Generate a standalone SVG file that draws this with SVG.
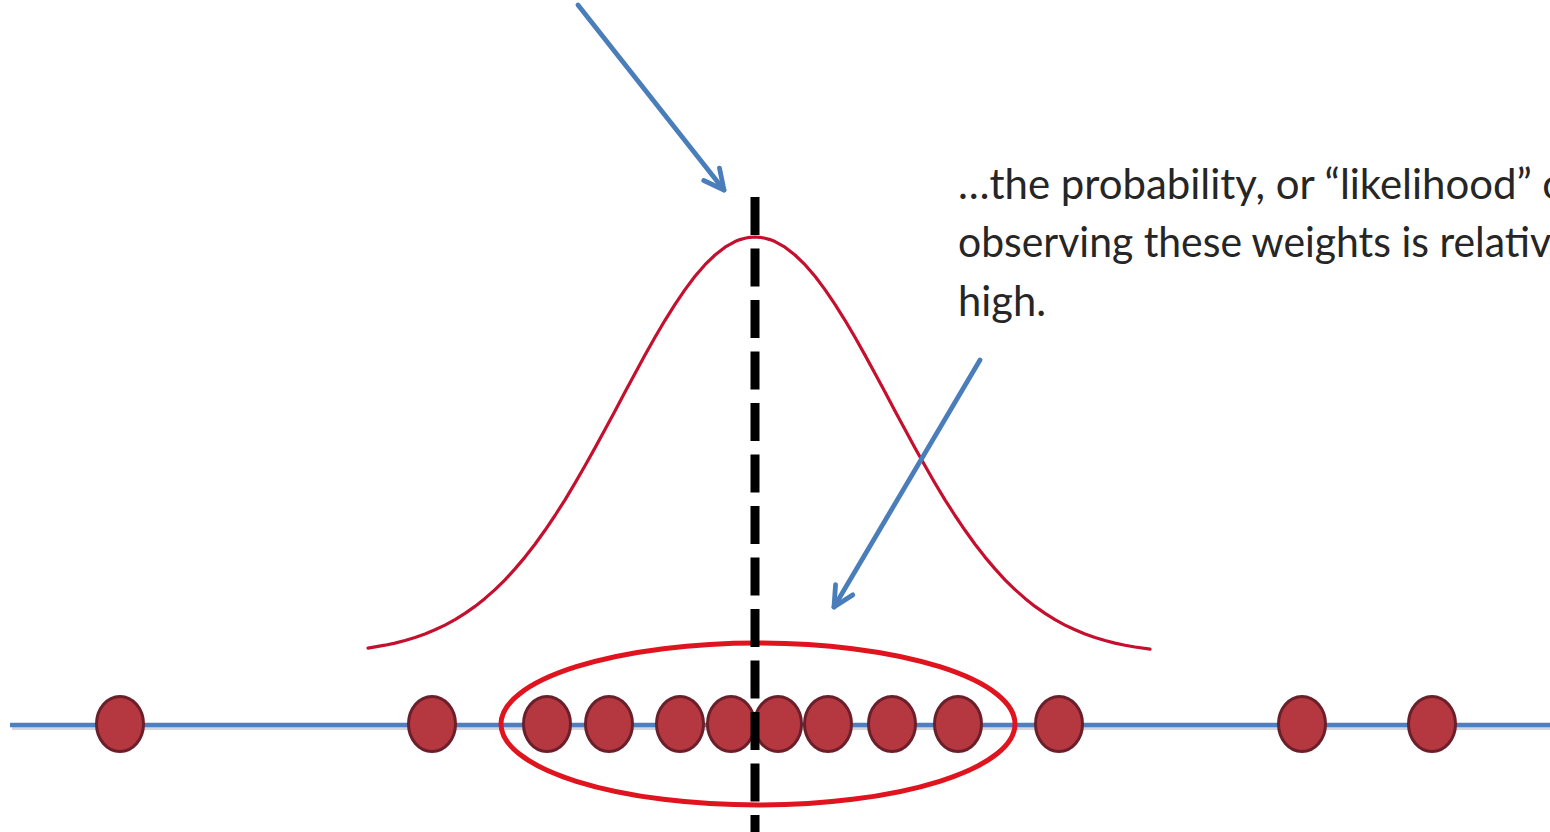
<svg xmlns="http://www.w3.org/2000/svg" width="1550" height="832" viewBox="0 0 1550 832">
<style>
.axis{stroke:#4f7fbf;stroke-width:4.5;fill:none}
.shadow{stroke:#d3d6dc;stroke-width:3;fill:none}
.dot{fill:#b5373f;stroke:#6b1f2a;stroke-width:3}
.mean{stroke:#000;stroke-width:9;fill:none;stroke-dasharray:38 13.5}
.curve{stroke:#c4102e;stroke-width:3.2;fill:none;stroke-linejoin:round;stroke-linecap:round}
.ring{stroke:#e0141e;stroke-width:5;fill:none}
.arrow{stroke:#4a7ebb;stroke-width:4.8;fill:none;stroke-linecap:round}
.label{font-family:Lato,"Open Sans",sans-serif;font-size:42px;fill:#262626}
</style>
<defs>
<marker id="arr" markerUnits="userSpaceOnUse" markerWidth="30" markerHeight="30" viewBox="-25 -15 30 30" refX="0" refY="0" orient="auto" overflow="visible">
<path d="M-20,-10 L0,0 L-20,10" fill="none" stroke="#4a7ebb" stroke-width="4.8" stroke-linecap="round" stroke-linejoin="round"/>
</marker>
</defs>
<rect width="1550" height="832" fill="#fff"/>
<g id="axis">
<line class="shadow" x1="12" y1="728.5" x2="1550" y2="728.5"/>
<line class="axis" x1="10" y1="725" x2="1550" y2="725"/>
</g>
<g id="highlight">
<ellipse class="ring" cx="758" cy="724" rx="257" ry="81"/>
</g>
<g id="points">
<ellipse class="dot" cx="120" cy="724" rx="23.5" ry="27.5"/>
<ellipse class="dot" cx="432" cy="724" rx="23.5" ry="27.5"/>
<ellipse class="dot" cx="547" cy="724" rx="23.5" ry="27.5"/>
<ellipse class="dot" cx="609" cy="724" rx="23.5" ry="27.5"/>
<ellipse class="dot" cx="680" cy="724" rx="23.5" ry="27.5"/>
<ellipse class="dot" cx="731" cy="724" rx="23.5" ry="27.5"/>
<ellipse class="dot" cx="778" cy="724" rx="23.5" ry="27.5"/>
<ellipse class="dot" cx="828" cy="724" rx="23.5" ry="27.5"/>
<ellipse class="dot" cx="892" cy="724" rx="23.5" ry="27.5"/>
<ellipse class="dot" cx="958" cy="724" rx="23.5" ry="27.5"/>
<ellipse class="dot" cx="1059" cy="724" rx="23.5" ry="27.5"/>
<ellipse class="dot" cx="1302" cy="724" rx="23.5" ry="27.5"/>
<ellipse class="dot" cx="1432" cy="724" rx="23.5" ry="27.5"/>
</g>
<g id="mean-line">
<line class="mean" x1="755" y1="197" x2="755" y2="832"/>
</g>
<g id="curve">
<path class="curve" d="M368,648.1 L385,645.2 L395,643.1 L405,640.5 L415,637.5 L425,633.9 L435,629.8 L445,625.1 L455,619.6 L465,613.4 L475,606.4 L485,598.4 L495,589.6 L505,579.8 L515,568.9 L525,557.1 L535,544.2 L545,530.3 L555,515.5 L565,499.8 L575,483.2 L585,465.8 L595,447.9 L605,429.5 L615,410.9 L625,392.1 L635,373.4 L645,355.1 L655,337.3 L665,320.3 L675,304.3 L685,289.6 L695,276.3 L705,264.7 L715,255.0 L725,247.2 L735,241.6 L740,239.6 L745,238.2 L750,237.3 L755,237 L760,237.3 L765,238.2 L770,239.6 L775,241.6 L785,247.2 L795,255.0 L805,264.7 L815,276.3 L825,289.6 L835,304.3 L845,320.3 L855,337.3 L865,355.1 L875,373.4 L885,392.1 L895,410.9 L905,429.5 L915,447.9 L925,465.8 L935,483.2 L945,499.8 L955,515.5 L965,530.3 L975,544.2 L985,557.1 L995,568.9 L1005,579.8 L1015,589.6 L1025,598.4 L1035,606.4 L1045,613.4 L1055,619.6 L1065,625.1 L1075,629.8 L1085,633.9 L1095,637.5 L1105,640.5 L1115,643.1 L1125,645.2 L1135,647.0 L1150,649.2"/>
</g>
<g id="connectors">
<path class="arrow" d="M578,5 L724,190" marker-end="url(#arr)"/>
<path class="arrow" d="M980,360 L834,607" marker-end="url(#arr)"/>
</g>
<g id="label">
<text class="label" x="958" y="199" textLength="608" lengthAdjust="spacingAndGlyphs">…the probability, or “likelihood” o</text>
<text class="label" x="958" y="257" textLength="593" lengthAdjust="spacingAndGlyphs">observing these weights is relativ</text>
<text class="label" x="958" y="316" textLength="88" lengthAdjust="spacingAndGlyphs">high.</text>
</g>
</svg>
